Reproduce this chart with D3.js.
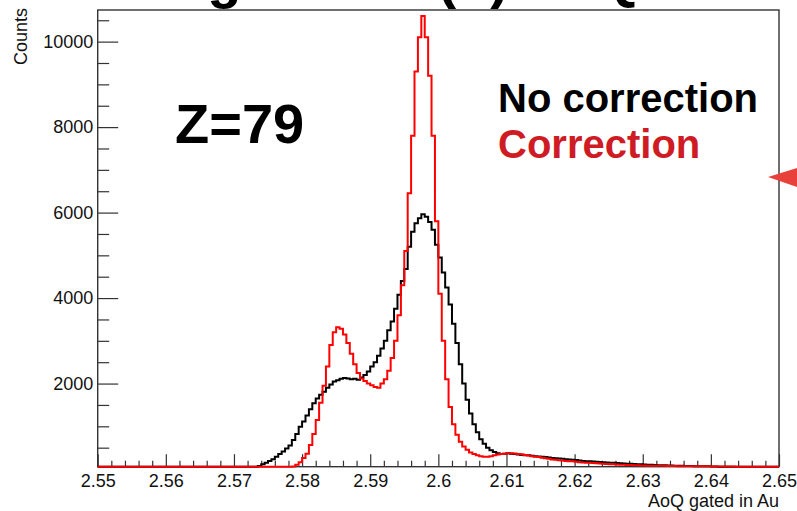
<html>
<head>
<title>AoQ gated in Au</title>
<script src="https://d3js.org/d3.v7.min.js"></script>
<style>
body { margin: 0; background: #fff; }
svg { display: block; }
text { font-family: "Liberation Sans", Arial, sans-serif; }
.hist { fill: none; stroke-width: 2px; }
</style>
</head>
<body>
<div id="plot"></div>
<script>
// histogram bins: width 0.0005
var binWidth = 0.0005;

var noCorrStart = 2.572;
var noCorrCounts = [10, 20, 40, 70, 110, 150, 190, 230, 290, 350, 410, 480, 550, 680, 820, 990,
  1110, 1250, 1400, 1540, 1650, 1740, 1810, 1900, 1980, 2050, 2080, 2110, 2130, 2120, 2100, 2110,
  2090, 2140, 2200, 2280, 2400, 2500, 2650, 2820, 3000, 3250, 3450, 3750, 4080, 4400, 4680, 5200,
  5550, 5750, 5870, 5960, 5900, 5780, 5600, 5250, 4950, 4600, 4250, 3850, 3400, 2950, 2450, 2000,
  1620, 1300, 1050, 860, 700, 590, 500, 440, 400, 370, 350, 360, 370, 360, 350, 340,
  330, 320, 320, 310, 300, 295, 290, 280, 270, 260, 255, 245, 240, 230, 225, 220,
  210, 200, 190, 185, 180, 175, 170, 165, 160, 155, 150, 145, 140, 135, 130, 125,
  125, 120, 115, 110, 105, 100, 100, 95, 90, 90, 88, 85, 82, 80, 78, 76,
  74, 72, 70, 68, 67, 66, 65, 64, 62, 60, 40, 20];

var corrStart = 2.5785;
var corrCounts = [60, 100, 160, 260, 360, 560, 820, 1150, 1550, 1950, 2400, 2900, 3200, 3320, 3280, 3150,
  2950, 2700, 2450, 2250, 2120, 2060, 2000, 1960, 1920, 1900, 2000, 2100, 2300, 2600, 3000, 3600,
  4300, 5100, 6450, 7800, 9300, 10100, 10600, 10100, 9200, 7800, 5800, 4100, 3000, 2100, 1450, 1050,
  800, 640, 530, 450, 390, 350, 320, 300, 290, 290, 300, 320, 340, 350, 360, 370,
  370, 365, 355, 345, 330, 315, 300, 290, 280, 265, 250, 240, 225, 215, 205, 200,
  190, 185, 180, 170, 160, 155, 150, 145, 140, 135, 130, 125, 120, 115, 110, 105,
  100, 100, 95, 95, 90, 90, 85, 85, 80, 80, 80, 75, 75, 75, 70, 70,
  70, 68, 68, 66, 66, 65, 65, 64, 64, 63, 63, 62, 62, 61, 61, 60, 60, 60];

var xMajorTicks = [2.55, 2.56, 2.57, 2.58, 2.59, 2.60, 2.61, 2.62, 2.63, 2.64, 2.65];
var xTickLabels = ["2.55", "2.56", "2.57", "2.58", "2.59", "2.6", "2.61", "2.62", "2.63", "2.64", "2.65"];
var yMajorTicks = [2000, 4000, 6000, 8000, 10000];

var W = 797, H = 511;
var margin = {left: 97.7, right: 779, top: 10, bottom: 466.7};

var svg = d3.select("#plot").append("svg")
  .attr("width", W).attr("height", H);

var x = d3.scaleLinear().domain([2.55, 2.65]).range([margin.left, margin.right]);
var y = d3.scaleLinear().domain([55, 10740]).range([margin.bottom, margin.top]).clamp(true);

// minor ticks
var xMinor = d3.range(0, 51).map(function(i) { return 2.55 + i * 0.002; })
  .filter(function(v, i) { return i % 5 != 0; });
var yMinor = d3.range(1, 22).map(function(i) { return i * 500; })
  .filter(function(v) { return v % 2000 != 0; });

// frame (drawn first so the histograms sit on top of it)
svg.append("rect")
  .attr("x", margin.left).attr("y", margin.top)
  .attr("width", margin.right - margin.left).attr("height", margin.bottom - margin.top)
  .attr("fill", "none").attr("stroke", "#333").attr("stroke-width", 1.4);

// axes (ticks point inside the frame like ROOT)
svg.append("g").attr("transform", "translate(0," + margin.bottom + ")")
  .call(d3.axisBottom(x).tickValues(xMajorTicks)
    .tickFormat(function(d, i) { return xTickLabels[i]; })
    .tickSizeInner(-12.5).tickSizeOuter(0).tickPadding(7.5));
svg.append("g").attr("transform", "translate(0," + margin.bottom + ")")
  .call(d3.axisBottom(x).tickValues(xMinor).tickFormat("").tickSizeInner(-6).tickSizeOuter(0));

svg.append("g").attr("transform", "translate(" + margin.left + ",0)")
  .call(d3.axisLeft(y).tickValues(yMajorTicks).tickFormat(d3.format("d"))
    .tickSizeInner(-20.5).tickSizeOuter(0).tickPadding(4.5));
svg.append("g").attr("transform", "translate(" + margin.left + ",0)")
  .call(d3.axisLeft(y).tickValues(yMinor).tickFormat("").tickSizeInner(-11.5).tickSizeOuter(0));

svg.selectAll(".domain").remove();
svg.selectAll(".tick line").attr("stroke", "#333").attr("stroke-width", 1.2);
svg.selectAll(".tick text").attr("font-size", 18)
  .attr("font-family", "Liberation Sans, Arial, sans-serif").attr("fill", "#111");

// build the step outline of a histogram
function histPoints(start, counts) {
  var pts = [{x: 2.55, y: 0}];
  counts.forEach(function(c, i) { pts.push({x: start + i * binWidth, y: c}); });
  pts.push({x: start + counts.length * binWidth, y: 0});
  pts.push({x: 2.65, y: 0});
  return pts;
}

var line = d3.line()
  .x(function(d) { return x(d.x); })
  .y(function(d) { return y(d.y); })
  .curve(d3.curveStepAfter);

svg.append("path").attr("class", "hist")
  .attr("d", line(histPoints(noCorrStart, noCorrCounts)))
  .style("stroke", "#000");

svg.append("path").attr("class", "hist")
  .attr("d", line(histPoints(corrStart, corrCounts)))
  .style("stroke", "#ff0000");

// titles
svg.append("text")
  .attr("x", margin.right).attr("y", 507)
  .attr("text-anchor", "end").attr("font-size", 18).attr("fill", "#111")
  .text("AoQ gated in Au");

svg.append("text")
  .attr("transform", "translate(27,8) rotate(-90)")
  .attr("text-anchor", "end").attr("font-size", 18).attr("fill", "#111")
  .text("Counts");

// canvas title, mostly cut off at the top
svg.append("text")
  .attr("x", 117).attr("y", -3)
  .attr("font-size", 56).attr("font-weight", "bold").attr("fill", "#000")
  .text("Au gated in (Z) AoQ");

// labels inside the pad
svg.append("text")
  .attr("x", 175).attr("y", 143)
  .attr("font-size", 56).attr("font-weight", "bold").attr("fill", "#000")
  .text("Z=79");

svg.append("text")
  .attr("x", 498).attr("y", 112)
  .attr("font-size", 40).attr("font-weight", "bold").attr("fill", "#000")
  .text("No correction");

svg.append("text")
  .attr("x", 498).attr("y", 158)
  .attr("font-size", 40).attr("font-weight", "bold").attr("fill", "#cf1b24")
  .text("Correction");

// little red marker at the right edge
svg.append("path")
  .attr("d", d3.line()([[768, 177], [797, 168], [797, 187]]) + "Z")
  .attr("fill", "#e8403b");
</script>
</body>
</html>
